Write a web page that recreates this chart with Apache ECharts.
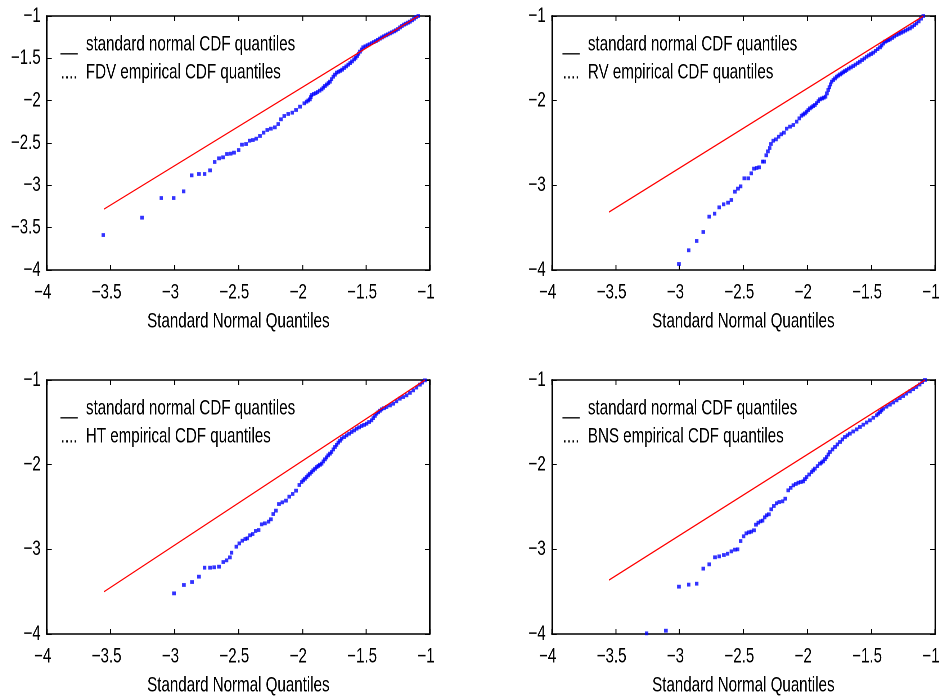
<!DOCTYPE html>
<html><head><meta charset="utf-8">
<script src="https://cdn.jsdelivr.net/npm/echarts@6/dist/echarts.min.js"></script>
<style>
html,body{margin:0;padding:0;background:#fff;overflow:hidden;width:942px;height:700px}
#c{height:700px;transform-origin:0 0}
</style>
</head><body><div id="c"></div>
<script>
// ---------- data ----------
const xTickValues = [-4, -3.5, -3, -2.5, -2, -1.5, -1];
const yTickValuesFDV = [-4, -3.5, -3, -2.5, -2, -1.5, -1];
const yTickValuesOther = [-4, -3, -2, -1];
const axisTitle = 'Standard Normal Quantiles';
const legendRefText = '__  standard normal CDF quantiles';
const legendEmpText = ['....  FDV empirical CDF quantiles', '....  RV empirical CDF quantiles', '....  HT empirical CDF quantiles', '....  BNS empirical CDF quantiles'];

// reference lines (standard normal CDF quantiles)
const refFDV = [[-3.551, -3.28], [-1.091, -1.0]];
const refRV  = [[-3.551, -3.315], [-1.091, -1.0]];
const refHT  = [[-3.551, -3.50], [-1.039, -1.0]];
const refBNS = [[-3.551, -3.362], [-1.078, -1.0]];

// empirical CDF quantiles (x = standard normal quantile, y = empirical quantile)
const empFDV = [[-3.557,-3.587],[-3.254,-3.382],[-3.103,-3.150],[-3.006,-3.150],[-2.928,-3.071],[-2.865,-2.882],[-2.808,-2.866],[-2.764,-2.866],[-2.722,-2.823],[-2.685,-2.724],[-2.652,-2.681],[-2.620,-2.669],[-2.589,-2.630],[-2.560,-2.626],[-2.534,-2.614],[-2.498,-2.583],[-2.472,-2.520],[-2.440,-2.512],[-2.412,-2.473],[-2.386,-2.465],[-2.360,-2.449],[-2.331,-2.417],[-2.302,-2.378],[-2.274,-2.346],[-2.245,-2.331],[-2.214,-2.315],[-2.188,-2.276],[-2.167,-2.220],[-2.141,-2.181],[-2.110,-2.157],[-2.078,-2.142],[-2.049,-2.110],[-2.018,-2.071],[-1.984,-2.031],
[-1.966,-2.012],[-1.953,-1.998],[-1.940,-1.984],[-1.933,-1.958],[-1.927,-1.933],[-1.910,-1.921],[-1.895,-1.911],[-1.880,-1.898],[-1.864,-1.882],[-1.848,-1.866],[-1.835,-1.847],[-1.822,-1.827],[-1.808,-1.809],[-1.795,-1.792],[-1.783,-1.776],[-1.770,-1.746],[-1.757,-1.717],[-1.744,-1.693],[-1.731,-1.669],[-1.716,-1.659],[-1.702,-1.648],[-1.688,-1.634],[-1.672,-1.614],[-1.656,-1.595],[-1.640,-1.575],[-1.625,-1.556],[-1.610,-1.536],[-1.594,-1.512],[-1.582,-1.494],[-1.570,-1.472],[-1.559,-1.446],[-1.548,-1.421],[-1.536,-1.396],[-1.523,-1.370],[-1.507,-1.358],[-1.490,-1.345],[-1.474,-1.334],[-1.457,-1.321],[-1.440,-1.308],[-1.424,-1.296],[-1.408,-1.282],[-1.392,-1.267],[-1.376,-1.253],[-1.361,-1.240],[-1.345,-1.228],[-1.330,-1.217],[-1.314,-1.205],[-1.298,-1.193],[-1.282,-1.181],[-1.267,-1.169],[-1.251,-1.154],[-1.235,-1.135],[-1.220,-1.118],[-1.204,-1.102],[-1.188,-1.091],[-1.173,-1.079],[-1.157,-1.067],[-1.141,-1.050],[-1.125,-1.032],[-1.110,-1.014],[-1.092,-1.000]];

const empRV = [[-3.004,-3.929],[-2.928,-3.767],[-2.865,-3.657],[-2.814,-3.551],[-2.767,-3.370],[-2.725,-3.335],[-2.689,-3.260],[-2.654,-3.224],[-2.620,-3.205],[-2.594,-3.173],[-2.566,-3.075],[-2.542,-3.039],[-2.521,-3.012],[-2.493,-2.917],[-2.462,-2.917],[-2.438,-2.858],[-2.417,-2.803],[-2.396,-2.795],[-2.376,-2.787],[-2.350,-2.720],[-2.337,-2.720],[-2.321,-2.645],[-2.308,-2.599],[-2.294,-2.559],[-2.284,-2.512],[-2.266,-2.473],[-2.245,-2.457],[-2.224,-2.426],[-2.203,-2.397],[-2.182,-2.378],[-2.161,-2.331],[-2.135,-2.307],[-2.109,-2.287],[-2.083,-2.248],[-2.062,-2.209],
[-2.045,-2.178],[-2.031,-2.164],[-2.018,-2.150],[-2.005,-2.131],[-1.992,-2.111],[-1.979,-2.091],[-1.966,-2.078],[-1.953,-2.064],[-1.940,-2.051],[-1.927,-2.029],[-1.913,-2.006],[-1.900,-1.984],[-1.885,-1.974],[-1.870,-1.964],[-1.856,-1.953],[-1.846,-1.914],[-1.836,-1.874],[-1.827,-1.841],[-1.818,-1.808],[-1.809,-1.776],[-1.796,-1.756],[-1.783,-1.737],[-1.770,-1.717],[-1.757,-1.704],[-1.744,-1.690],[-1.731,-1.677],[-1.718,-1.664],[-1.705,-1.651],[-1.692,-1.638],[-1.675,-1.622],[-1.658,-1.607],[-1.640,-1.591],[-1.623,-1.574],[-1.605,-1.557],[-1.588,-1.540],[-1.570,-1.520],[-1.553,-1.501],[-1.535,-1.481],[-1.518,-1.465],[-1.501,-1.449],[-1.484,-1.433],[-1.466,-1.412],[-1.449,-1.391],[-1.431,-1.370],[-1.418,-1.348],[-1.405,-1.325],[-1.392,-1.303],[-1.379,-1.294],[-1.366,-1.285],[-1.353,-1.276],[-1.335,-1.259],[-1.318,-1.241],[-1.300,-1.224],[-1.283,-1.211],[-1.266,-1.198],[-1.249,-1.185],[-1.231,-1.172],[-1.214,-1.159],[-1.196,-1.146],[-1.179,-1.126],[-1.161,-1.107],[-1.144,-1.087],[-1.127,-1.063],[-1.110,-1.031],[-1.092,-1.000]];

const empHT = [[-3.004,-3.520],[-2.926,-3.421],[-2.863,-3.386],[-2.808,-3.323],[-2.764,-3.217],[-2.722,-3.217],[-2.689,-3.212],[-2.652,-3.205],[-2.618,-3.150],[-2.592,-3.130],[-2.566,-3.095],[-2.553,-3.040],[-2.516,-2.969],[-2.493,-2.930],[-2.469,-2.898],[-2.446,-2.878],[-2.430,-2.870],[-2.409,-2.834],[-2.388,-2.819],[-2.365,-2.783],[-2.341,-2.772],[-2.318,-2.705],[-2.292,-2.693],[-2.263,-2.673],[-2.245,-2.645],[-2.227,-2.583],[-2.206,-2.543],[-2.182,-2.465],[-2.156,-2.445],[-2.128,-2.425],[-2.102,-2.378],[-2.075,-2.346],[-2.049,-2.307],[-2.023,-2.240],
[-2.005,-2.205],[-1.992,-2.185],[-1.979,-2.166],[-1.966,-2.146],[-1.953,-2.126],[-1.940,-2.107],[-1.927,-2.087],[-1.914,-2.067],[-1.900,-2.048],[-1.887,-2.028],[-1.874,-2.015],[-1.861,-2.001],[-1.848,-1.988],[-1.835,-1.962],[-1.822,-1.937],[-1.810,-1.914],[-1.797,-1.890],[-1.783,-1.870],[-1.770,-1.850],[-1.757,-1.820],[-1.744,-1.791],[-1.731,-1.766],[-1.718,-1.740],[-1.705,-1.717],[-1.692,-1.693],[-1.672,-1.674],[-1.653,-1.654],[-1.633,-1.634],[-1.613,-1.614],[-1.594,-1.595],[-1.574,-1.575],[-1.555,-1.559],[-1.535,-1.543],[-1.516,-1.530],[-1.496,-1.516],[-1.477,-1.496],[-1.457,-1.476],[-1.444,-1.450],[-1.431,-1.424],[-1.418,-1.398],[-1.405,-1.381],[-1.392,-1.363],[-1.379,-1.346],[-1.360,-1.333],[-1.340,-1.319],[-1.314,-1.300],[-1.288,-1.280],[-1.262,-1.251],[-1.236,-1.221],[-1.210,-1.201],[-1.183,-1.181],[-1.157,-1.152],[-1.131,-1.122],[-1.105,-1.089],[-1.079,-1.055],[-1.060,-1.030],[-1.040,-1.004]];

const empBNS = [[-3.257,-3.992],[-3.106,-3.961],[-3.004,-3.441],[-2.928,-3.417],[-2.865,-3.406],[-2.814,-3.228],[-2.767,-3.177],[-2.722,-3.094],[-2.689,-3.083],[-2.652,-3.067],[-2.623,-3.052],[-2.594,-3.024],[-2.566,-3.004],[-2.545,-3.000],[-2.521,-2.902],[-2.498,-2.846],[-2.477,-2.811],[-2.456,-2.799],[-2.438,-2.791],[-2.417,-2.775],[-2.401,-2.709],[-2.383,-2.685],[-2.365,-2.669],[-2.349,-2.661],[-2.333,-2.622],[-2.318,-2.598],[-2.300,-2.586],[-2.282,-2.527],[-2.261,-2.488],[-2.240,-2.456],[-2.219,-2.441],[-2.193,-2.433],[-2.172,-2.402],[-2.149,-2.303],
[-2.129,-2.274],[-2.109,-2.244],[-2.089,-2.228],[-2.070,-2.213],[-2.050,-2.205],[-2.031,-2.197],[-2.018,-2.171],[-2.005,-2.146],[-1.985,-2.116],[-1.966,-2.087],[-1.953,-2.067],[-1.940,-2.047],[-1.920,-2.017],[-1.900,-1.988],[-1.888,-1.975],[-1.875,-1.961],[-1.861,-1.935],[-1.848,-1.910],[-1.835,-1.880],[-1.822,-1.850],[-1.802,-1.820],[-1.783,-1.791],[-1.764,-1.761],[-1.744,-1.732],[-1.725,-1.702],[-1.705,-1.673],[-1.686,-1.653],[-1.666,-1.634],[-1.640,-1.608],[-1.613,-1.583],[-1.587,-1.555],[-1.561,-1.528],[-1.535,-1.502],[-1.509,-1.476],[-1.483,-1.446],[-1.457,-1.417],[-1.444,-1.398],[-1.431,-1.378],[-1.418,-1.358],[-1.405,-1.339],[-1.379,-1.315],[-1.353,-1.291],[-1.327,-1.265],[-1.300,-1.240],[-1.275,-1.214],[-1.249,-1.189],[-1.223,-1.161],[-1.196,-1.134],[-1.170,-1.108],[-1.144,-1.083],[-1.120,-1.053],[-1.100,-1.025],[-1.079,-1.000]];

// ---------- layout / style ----------
// The reference figure's text is tall and narrow (horizontally compressed), so the
// whole chart is drawn wider and squeezed horizontally by S with a CSS transform.
const S = 0.72;
const FONT = "'Liberation Sans', Arial, Helvetica, sans-serif";
const FS = 21;
const panels = [
  {left: 46.7, top: 16, emp: empFDV, ref: refFDV, yTicks: yTickValuesFDV, legendDx: 14},
  {left: 551.7, top: 16, emp: empRV, ref: refRV, yTicks: yTickValuesOther, legendDx: 11},
  {left: 46.7, top: 380, emp: empHT, ref: refHT, yTicks: yTickValuesOther, legendDx: 14},
  {left: 551.7, top: 380, emp: empBNS, ref: refBNS, yTicks: yTickValuesOther, legendDx: 11}
];
const W = 383.3, H = 254;
const fmt = v => String(v).replace('-', '\u2212');

const el = document.getElementById('c');
el.style.width = (942 / S) + 'px';
el.style.transform = 'scaleX(' + S + ')';

const grid = [], xAxis = [], yAxis = [], series = [], graphic = [];
panels.forEach((p, i) => {
  grid.push({left: p.left / S, top: p.top, width: W / S, height: H, show: false, containLabel: false});
  const xMin = xTickValues[0], xMax = xTickValues[xTickValues.length - 1];
  const yMin = p.yTicks[0], yMax = p.yTicks[p.yTicks.length - 1];
  const yInt = p.yTicks[1] - p.yTicks[0];
  const xInt = xTickValues[1] - xTickValues[0];
  const xLine = {color: '#000', width: 1.5};
  const yLine = {color: '#000', width: 1.5 / S};
  const xTick = {show: true, inside: true, length: 5, lineStyle: {color: '#000', width: 1 / S}};
  const yTick = {show: true, inside: true, length: 5 / S, lineStyle: {color: '#000', width: 1}};
  xAxis.push({
    type: 'value', gridIndex: i, position: 'bottom', min: xMin, max: xMax, interval: xInt,
    axisLine: {show: true, onZero: false, lineStyle: xLine}, axisTick: xTick,
    axisLabel: {show: true, formatter: fmt, color: '#000', fontFamily: FONT, fontSize: FS, margin: 12, padding: [0, 8 / S, 0, 0]},
    splitLine: {show: false},
    name: axisTitle, nameLocation: 'middle', nameGap: 41,
    nameTextStyle: {color: '#000', fontFamily: FONT, fontSize: FS}
  });
  xAxis.push({
    type: 'value', gridIndex: i, position: 'top', min: xMin, max: xMax, interval: xInt,
    axisLine: {show: true, onZero: false, lineStyle: xLine}, axisTick: xTick,
    axisLabel: {show: false}, splitLine: {show: false}
  });
  yAxis.push({
    type: 'value', gridIndex: i, position: 'left', min: yMin, max: yMax, interval: yInt,
    axisLine: {show: true, onZero: false, lineStyle: yLine}, axisTick: yTick,
    axisLabel: {show: true, formatter: fmt, color: '#000', fontFamily: FONT, fontSize: FS, margin: 6 / S},
    splitLine: {show: false}
  });
  yAxis.push({
    type: 'value', gridIndex: i, position: 'right', min: yMin, max: yMax, interval: yInt,
    axisLine: {show: true, onZero: false, lineStyle: yLine}, axisTick: yTick,
    axisLabel: {show: false}, splitLine: {show: false}
  });
  series.push({
    type: 'scatter', xAxisIndex: 2 * i, yAxisIndex: 2 * i, data: p.emp,
    symbol: 'rect', symbolSize: [3.5 / S, 3.8], itemStyle: {color: '#0000ff'}, silent: true, clip: true
  });
  series.push({
    type: 'line', xAxisIndex: 2 * i, yAxisIndex: 2 * i, data: p.ref, showSymbol: false, symbol: 'none',
    lineStyle: {color: '#ff0000', width: 1.3}, silent: true
  });
  const lx = (p.left + p.legendDx) / S;
  graphic.push({type: 'text', x: lx, y: p.top + 28.7, silent: true,
    style: {text: legendRefText, font: FS + 'px ' + FONT, fill: '#000', verticalAlign: 'middle'}});
  graphic.push({type: 'text', x: lx, y: p.top + 56.5, silent: true,
    style: {text: legendEmpText[i], font: FS + 'px ' + FONT, fill: '#000', verticalAlign: 'middle'}});
});

const chart = echarts.init(el, null, {renderer: 'canvas', devicePixelRatio: 2});
chart.setOption({animation: false, backgroundColor: '#fff', grid, xAxis, yAxis, series, graphic});
</script>
</body></html>
